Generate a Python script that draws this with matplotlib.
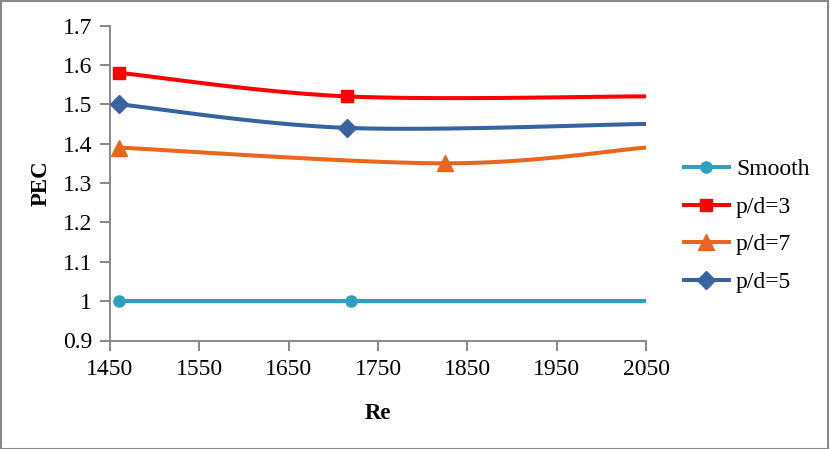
import numpy as np
import matplotlib.pyplot as plt

plt.rcParams['font.family'] = ['Liberation Serif', 'DejaVu Serif']

# data (anchor points of the smoothed lines)
re_smooth = [1460, 1720, 2050]
pec_smooth = [1.00, 1.00, 1.00]
re_pd3 = [1460, 1715, 2050]
pec_pd3 = [1.58, 1.52, 1.52]
re_pd7 = [1460, 1825, 2050]
pec_pd7 = [1.39, 1.35, 1.39]
re_pd5 = [1460, 1715, 2050]
pec_pd5 = [1.50, 1.44, 1.45]

labels = ['Smooth', 'p/d=3', 'p/d=7', 'p/d=5']
colors = ['#2FA0C0', '#FF0000', '#EA661D', '#3763A0']
markers = ['o', 's', '^', 'D']
msizes = [8, 9, 12, 9.5]
# which anchor points carry a marker
marker_idx = [0, 1]


def smooth_curve(xs, ys, n=60):
    # Bezier with Catmull-Rom control points, like a spreadsheet "smoothed line"
    p = np.column_stack([xs, ys]).astype(float)
    p_ext = np.vstack([p[0], p, p[-1]])
    out = []
    for i in range(len(p) - 1):
        p0, p1, p2, p3 = p_ext[i], p_ext[i + 1], p_ext[i + 2], p_ext[i + 3]
        c1 = p1 + (p2 - p0) / 6.0
        c2 = p2 - (p3 - p1) / 6.0
        t = np.linspace(0, 1, n)[:, None]
        seg = ((1 - t) ** 3) * p1 + 3 * ((1 - t) ** 2) * t * c1 + 3 * (1 - t) * t ** 2 * c2 + t ** 3 * p2
        out.append(seg if i == 0 else seg[1:])
    out = np.vstack(out)
    return out[:, 0], out[:, 1]


fig = plt.figure(figsize=(8.3, 4.49), dpi=100)
ax = fig.add_axes([110 / 830, 1 - 340.5 / 449, 536 / 830, 315 / 449])

series = [(re_smooth, pec_smooth), (re_pd3, pec_pd3), (re_pd7, pec_pd7), (re_pd5, pec_pd5)]
for k, (xs, ys) in enumerate(series):
    cx, cy = smooth_curve(xs, ys)
    ax.plot(cx, cy, color=colors[k], lw=2.9, solid_capstyle='butt', zorder=2)
    mx = [xs[i] for i in marker_idx]
    my = [ys[i] for i in marker_idx]
    ax.plot(mx, my, ls='none', marker=markers[k], ms=msizes[k], color=colors[k],
            markeredgecolor=colors[k], clip_on=False, zorder=3)
    # legend proxy
    ax.plot([], [], color=colors[k], lw=2.9, marker=markers[k], ms=msizes[k],
            markeredgecolor=colors[k], label=labels[k])

ax.set_xlim(1450, 2050)
ax.set_ylim(0.9, 1.7)
ax.set_xticks(np.arange(1450, 2051, 100))
ax.set_yticks(np.round(np.arange(0.9, 1.71, 0.1), 1))
ax.set_yticklabels(['0.9', '1', '1.1', '1.2', '1.3', '1.4', '1.5', '1.6', '1.7'])

for s in ['top', 'right']:
    ax.spines[s].set_visible(False)
for s in ['left', 'bottom']:
    ax.spines[s].set_color('#888888')
    ax.spines[s].set_linewidth(1.4)
ax.tick_params(axis='both', colors='#888888', labelcolor='black', labelsize=17,
               width=1.4, length=7, direction='out')
ax.tick_params(axis='y', pad=6)
ax.tick_params(axis='x', pad=6)

ax.set_xlabel('Re', fontsize=16.5, fontweight='bold', labelpad=17)
ax.set_ylabel('PEC', fontsize=16.5, fontweight='bold', labelpad=8)

handles, labs = ax.get_legend_handles_labels()
leg = fig.legend(handles, labs, loc='center left', bbox_to_anchor=(684 / 830, 0.497),
                 frameon=False, fontsize=17, handlelength=1.9, handletextpad=0.3,
                 labelspacing=0.68, borderpad=0, borderaxespad=0)

# outer border
fig.patches.append(plt.Rectangle((0.001, 0.001), 0.997, 0.996, transform=fig.transFigure,
                                 fill=False, edgecolor='#888888', lw=1.5))

fig.savefig('out.png', dpi=100)
